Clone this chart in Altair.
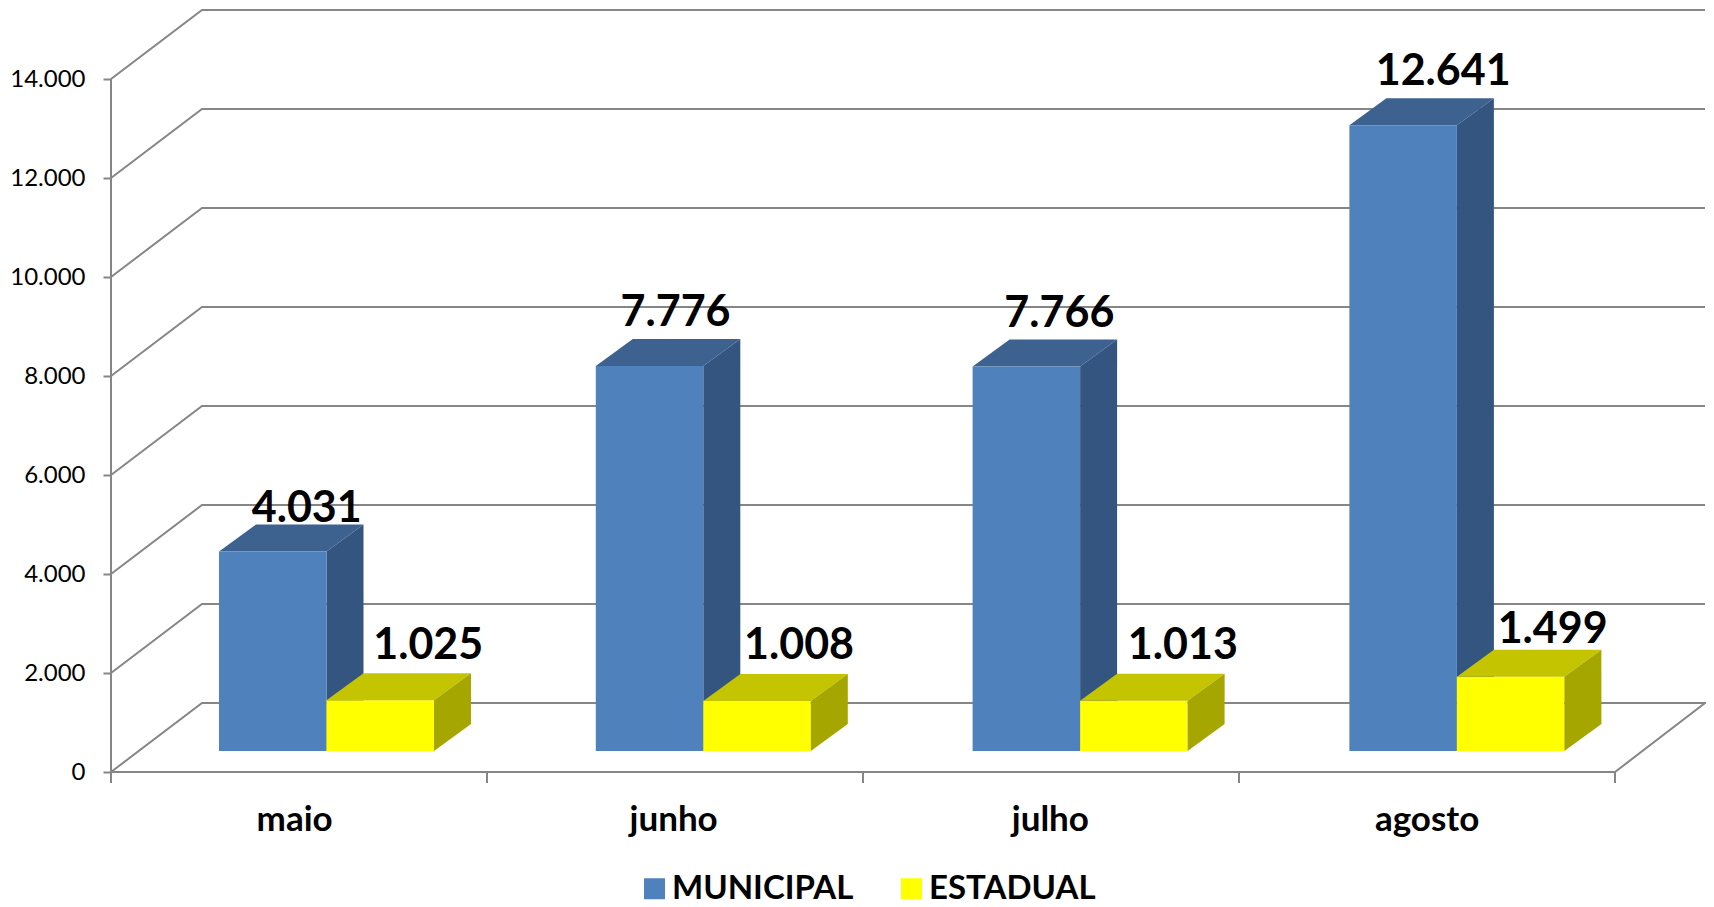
import altair as alt
import pandas as pd

months = ["maio", "junho", "julho", "agosto"]
series = ["MUNICIPAL", "ESTADUAL"]
municipal = [4031, 7776, 7766, 12641]
estadual = [1025, 1008, 1013, 1499]
y_ticks = [0, 2000, 4000, 6000, 8000, 10000, 12000, 14000]
month_label_pos = [0.487, 1.495, 2.497, 3.499]

# layout of the pseudo-3D box, in pixels of the reference
PX_Y = 0.0495          # px per value unit
PX_X = 376.0           # px per category
W, H = 1595, 764
GREY = "#868686"
FONT = "Lato"

X_MAX = W / PX_X
Y_MAX = H / PX_Y
WALL_DX = 91 / PX_X
WALL_DY = 69 / PX_Y
BAR_STEP = 376.8 / PX_X
BAR_LEFT = 108 / PX_X
BAR_W = 107.5 / PX_X
BAR_DX = 37 / PX_X
BAR_DY = 27 / PX_Y
BASE = 21 / PX_Y
RIGHT_END = 1594 / PX_X

# hand-placed data labels: horizontal nudge from bar centre, baseline gap above bar back
nudges = {
    "MUNICIPAL": ([34, 26, 33, 40], [2, 13, 13, 13]),
    "ESTADUAL": ([48, 42, 49, 42], [14, 15, 15, 7]),
}

x_scale = alt.Scale(domain=[0, X_MAX], nice=False, zero=False)
y_scale = alt.Scale(domain=[0, Y_MAX], nice=False, zero=False)

bars, tops, sides, labels = [], [], [], []
for s_i, (name, vals) in enumerate(zip(series, [municipal, estadual])):
    for i, (m, v) in enumerate(zip(months, vals)):
        xl = i * BAR_STEP + BAR_LEFT + s_i * BAR_W
        xr = xl + BAR_W
        top = BASE + v
        bars.append(dict(series=name, month=m, x=xl, x2=xr, y=top, y2=BASE))
        key = f"{name}-{m}"
        tops.append(dict(series=name, key=key, y=top, x=xl, x2=xr))
        tops.append(dict(series=name, key=key, y=top + BAR_DY, x=xl + BAR_DX, x2=xr + BAR_DX))
        sides.append(dict(series=name, key=key, x=xr, y=top, y2=BASE))
        sides.append(dict(series=name, key=key, x=xr + BAR_DX, y=top + BAR_DY, y2=BASE + BAR_DY))
        dxn, dyn = nudges[name]
        labels.append(dict(
            x=(xl + xr) / 2 + dxn[i] / PX_X,
            y=top + BAR_DY + dyn[i] / PX_Y,
            text=f"{v:,}".replace(",", "."),
        ))

walls = []
for t in y_ticks:
    walls.append(dict(tick=t, o=0, x=0, y=t))
    walls.append(dict(tick=t, o=1, x=WALL_DX, y=t + WALL_DY))
    walls.append(dict(tick=t, o=2, x=RIGHT_END, y=t + WALL_DY))
walls.append(dict(tick=0, o=3, x=4, y=0))
walls.append(dict(tick=0, o=4, x=0, y=0))
walls = pd.DataFrame(walls)

bars, tops, sides, labels = map(pd.DataFrame, (bars, tops, sides, labels))

names_js = "[" + ",".join(f"'{m}'" for m in months) + "]"

x_axis = alt.Axis(
    values=month_label_pos,
    labelExpr=f"{names_js}[floor(datum.value)]",
    domain=False, ticks=False, grid=False,
    labelFont=FONT, labelFontSize=35, labelFontWeight="bold", labelColor="black",
    labelPadding=30, labelFlush=False, title=None,
)
y_axis = alt.Axis(
    values=y_ticks,
    labelExpr="replace(format(datum.value, ','), ',', '.')",
    domain=False, grid=False,
    tickSize=8, tickColor=GREY, tickWidth=2,
    labelFont=FONT, labelFontSize=24, labelColor="black", labelPadding=18, title=None,
)


def X(field="x:Q"):
    return alt.X(field, scale=x_scale, axis=x_axis)


def Y(field="y:Q"):
    return alt.Y(field, scale=y_scale, axis=y_axis)


grid = alt.Chart(walls).mark_line(color=GREY, strokeWidth=2).encode(
    x=X(), y=Y(), detail="tick:N", order="o:Q",
)

y_line = alt.Chart(pd.DataFrame({"x": [0], "y": [0], "y2": [y_ticks[-1]]})).mark_rule(
    color=GREY, strokeWidth=2
).encode(x=X(), y=Y(), y2="y2:Q")

x_ticks = alt.Chart(pd.DataFrame({"x": list(range(5))})).mark_rule(
    color=GREY, strokeWidth=2
).encode(x=X(), y=alt.value(H), y2=alt.value(H + 11))


def faces(name, top_color, side_color):
    t = alt.Chart(tops[tops.series == name]).mark_area(
        orient="horizontal", color=top_color, opacity=1
    ).encode(y=Y(), x=X(), x2="x2:Q", detail="key:N")
    s = alt.Chart(sides[sides.series == name]).mark_area(
        orient="vertical", color=side_color, opacity=1
    ).encode(x=X(), y=Y(), y2="y2:Q", detail="key:N")
    return [t, s]


front = alt.Chart(bars).mark_rect().encode(
    x=X(), x2="x2:Q", y=Y(), y2="y2:Q",
    color=alt.Color(
        "series:N",
        scale=alt.Scale(domain=series, range=["#4F81BD", "#FFFF00"]),
        title=None,
        legend=alt.Legend(
            orient="none", legendX=527, legendY=864, direction="horizontal",
            symbolType="square", symbolSize=441, symbolStrokeWidth=0, symbolOpacity=1,
            labelFont=FONT, labelFontSize=33, labelFontWeight="bold", labelColor="black",
            labelOffset=1, columnPadding=41, labelLimit=400,
        ),
    ),
)

value_text = alt.Chart(labels).mark_text(
    font=FONT, fontSize=43, fontWeight="bold", color="black", baseline="alphabetic", align="center"
).encode(x=X(), y=Y(), text="text:N")

chart = alt.layer(
    grid, y_line, x_ticks,
    *faces("MUNICIPAL", "#3E6290", "#34557F"),
    front,
    *faces("ESTADUAL", "#C4C400", "#A6A600"),
    value_text,
).properties(
    width=W,
    height=H,
    autosize=alt.AutoSizeParams(type="none"),
    padding={"left": 103, "top": 0, "right": 0, "bottom": 135},
    background="white",
).configure_view(stroke=None)

chart.save("out.html", embed_options={"renderer": "svg", "actions": False})
